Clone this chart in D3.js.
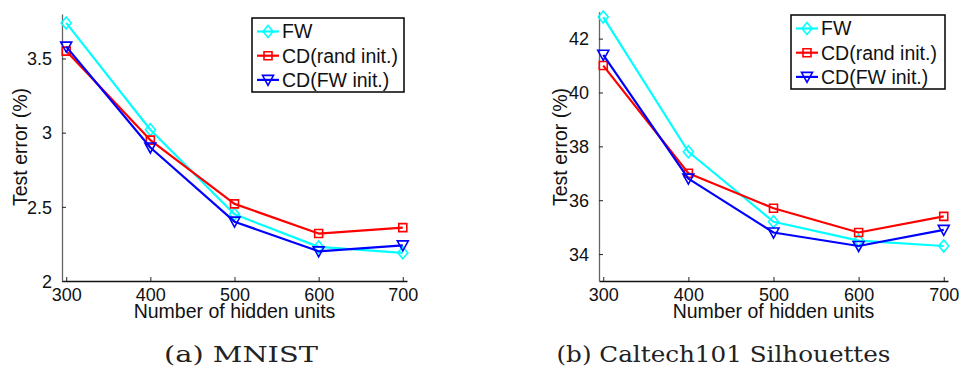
<!DOCTYPE html>
<html>
<head>
<meta charset="utf-8">
<script src="https://cdn.jsdelivr.net/npm/d3@7"></script>
<style>
  body { margin: 0; background: #fff; }
  svg { display: block; }
</style>
</head>
<body>
<div id="chart"></div>
<script>
// hidden units on the x axis
const units = [300, 400, 500, 600, 700];
const seriesNames = ['FW', 'CD(rand init.)', 'CD(FW init.)'];

// MNIST test error (%)
const mnistFW = [3.74, 3.02, 2.45, 2.23, 2.19];
const mnistCDrand = [3.55, 2.95, 2.52, 2.32, 2.36];
const mnistCDfw = [3.58, 2.90, 2.40, 2.20, 2.24];
const mnistTicks = [2, 2.5, 3, 3.5];

// Caltech101 Silhouettes test error (%)
const calFW = [42.8, 37.8, 35.2, 34.5, 34.3];
const calCDrand = [41.0, 37.0, 35.7, 34.8, 35.4];
const calCDfw = [41.4, 36.8, 34.8, 34.3, 34.9];
const calTicks = [34, 36, 38, 40, 42];

const colors = ['#00ffff', '#ff0000', '#0000ff'];
const sans = '"Liberation Sans", Arial, sans-serif';

const width = 961, height = 368;
const svg = d3.select('#chart').append('svg')
  .attr('width', width)
  .attr('height', height);

// MATLAB style open markers: diamond, square, down triangle
function marker(g, i, x, y) {
  let d;
  if (i === 0) d = `M${x},${y - 6}L${x + 5},${y}L${x},${y + 6}L${x - 5},${y}Z`;
  else if (i === 1) d = `M${x - 4},${y - 4}H${x + 4}V${y + 4}H${x - 4}Z`;
  else d = `M${x - 5.5},${y - 4.5}H${x + 5.5}L${x},${y + 5.5}Z`;
  g.append('path').attr('d', d)
    .attr('fill', 'none').attr('stroke', colors[i]).attr('stroke-width', 1.6);
}

function panel(opts) {
  const g = svg.append('g');
  const x = d3.scaleLinear().domain([295, 705]).range([opts.left, opts.right]);
  const y = d3.scaleLinear().domain(opts.yDomain).range([281, opts.top]);

  // axes with inward ticks
  const xAxis = g.append('g').attr('transform', 'translate(0,281)')
    .call(d3.axisBottom(x).tickValues(units).tickSize(-4).tickPadding(7.5).tickSizeOuter(0));
  const yAxis = g.append('g').attr('transform', `translate(${opts.left},0)`)
    .call(d3.axisLeft(y).tickValues(opts.ticks).tickFormat(d3.format('')).tickSize(-4).tickPadding(10).tickSizeOuter(0));
  [xAxis, yAxis].forEach(a => {
    a.select('.domain').attr('stroke-width', 1.3);
    a.selectAll('.tick line').attr('stroke', '#222');
    a.selectAll('.tick text').attr('fill', '#111')
      .style('font-family', sans).style('font-size', '18px');
  });
  yAxis.select('.domain').attr('stroke', '#666');
  xAxis.select('.domain').attr('stroke', '#111');
  xAxis.selectAll('.tick text').attr('dy', '0.71em');
  yAxis.selectAll('.tick text').attr('dy', '0.35em');

  g.append('text')
    .attr('x', (opts.left + opts.right) / 2).attr('y', 317.5)
    .attr('text-anchor', 'middle')
    .style('font-family', sans).style('font-size', '19.5px')
    .attr('fill', '#111')
    .text('Number of hidden units');
  g.append('text')
    .attr('transform', `translate(${opts.ylabelX},147) rotate(-90)`)
    .attr('text-anchor', 'middle')
    .style('font-family', sans).style('font-size', '19.5px')
    .attr('fill', '#111')
    .text('Test error (%)');

  const line = d3.line().x((d, i) => x(units[i])).y(d => y(d));
  opts.series.forEach((s, i) => {
    g.append('path').datum(s)
      .attr('d', line)
      .attr('fill', 'none').attr('stroke', colors[i]).attr('stroke-width', 2.2)
      .attr('stroke-linejoin', 'round');
    const mg = g.append('g');
    s.forEach((v, j) => marker(mg, i, x(units[j]), y(v)));
  });

  // legend
  const lg = g.append('g').attr('transform', `translate(${opts.legend[0]},${opts.legend[1]})`);
  lg.append('rect').attr('width', opts.legend[2]).attr('height', 74)
    .attr('fill', '#fff').attr('stroke', '#000').attr('stroke-width', 1.5);
  seriesNames.forEach((name, i) => {
    const ry = 13.5 + i * 24.2;
    lg.append('line').attr('x1', 5).attr('x2', 27).attr('y1', ry).attr('y2', ry)
      .attr('stroke', colors[i]).attr('stroke-width', 2.2);
    marker(lg, i, 16, ry);
    lg.append('text').attr('x', 30).attr('y', ry).attr('dy', '0.35em')
      .style('font-family', sans).style('font-size', '19.5px')
      .attr('fill', '#111')
      .text(name);
  });

  svg.append('text')
    .attr('x', opts.captionX).attr('y', 361.5)
    .attr('text-anchor', 'middle')
    .attr('textLength', opts.captionW).attr('lengthAdjust', 'spacingAndGlyphs')
    .style('font-family', '"DejaVu Serif", "Liberation Serif", serif').style('font-size', '22px')
    .attr('fill', '#222')
    .text(opts.caption);
}

panel({
  left: 62, right: 407, top: 14, yDomain: [2, 3.8], ticks: mnistTicks,
  series: [mnistFW, mnistCDrand, mnistCDfw],
  legend: [252, 18, 152], ylabelX: 27, captionX: 241, captionW: 154, caption: '(a) MNIST'
});
panel({
  left: 599, right: 948, top: 11.7, yDomain: [33, 43], ticks: calTicks,
  series: [calFW, calCDrand, calCDfw],
  legend: [791, 15, 154], ylabelX: 567, captionX: 723.5, captionW: 334, caption: '(b) Caltech101 Silhouettes'
});
</script>
</body>
</html>
